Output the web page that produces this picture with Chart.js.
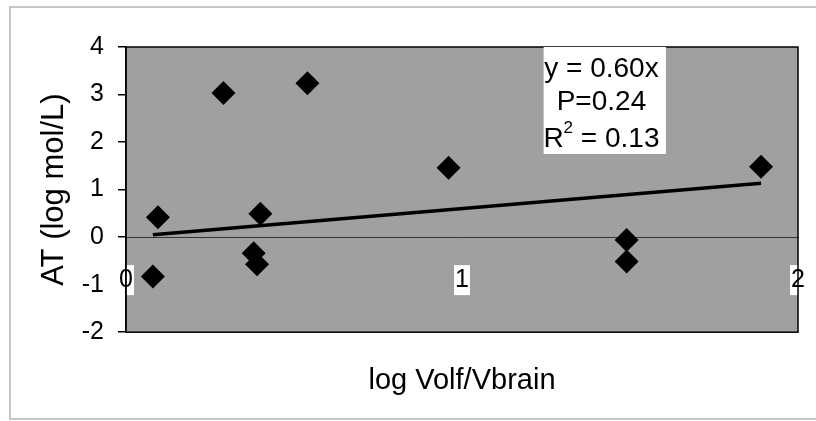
<!DOCTYPE html>
<html>
<head>
<meta charset="utf-8">
<script src="https://cdn.jsdelivr.net/npm/chart.js@4.4.1/dist/chart.umd.min.js"></script>
<style>
  html, body { margin: 0; padding: 0; background: #fff; }
</style>
</head>
<body>
<canvas id="myChart" width="816" height="421"></canvas>
<script>
// log Volf/Vbrain vs AT (log mol/L)
var volRatio = [0.08, 0.095, 0.29, 0.40, 0.38, 0.39, 0.54, 0.96, 1.49, 1.49, 1.89];
var atValues = [-0.83, 0.42, 3.03, 0.49, -0.34, -0.57, 3.24, 1.46, -0.06, -0.51, 1.48];
var xTicks = [0, 1, 2];
var yTicks = [-2, -1, 0, 1, 2, 3, 4];
var slope = 0.60;   // fitted line y = 0.60x
var pValue = 0.24;
var rSquared = 0.13;

var FONT = '"Liberation Sans", Arial, sans-serif';
Chart.defaults.font.family = FONT;
Chart.defaults.color = '#000';

var points = volRatio.map(function (v, i) { return { x: v, y: atValues[i] }; });
var xMin = Math.min.apply(null, volRatio);
var xMax = Math.max.apply(null, volRatio);
var trend = [{ x: xMin, y: slope * xMin }, { x: xMax, y: slope * xMax }];

var plotBox = {
    id: 'plotBox',
    beforeDraw: function (chart) {
        var ctx = chart.ctx, a = chart.chartArea;
        ctx.save();
        ctx.fillStyle = '#fff';
        ctx.fillRect(0, 0, chart.width, chart.height);
        // outer frame
        ctx.strokeStyle = '#b4b4b4';
        ctx.lineWidth = 1.5;
        ctx.strokeRect(10, 7, chart.width + 10, 412);
        // plot area fill
        ctx.fillStyle = '#a0a0a0';
        ctx.fillRect(a.left, a.top, a.right - a.left, a.bottom - a.top);
        ctx.restore();
    },
    beforeDatasetsDraw: function (chart) {
        var ctx = chart.ctx, a = chart.chartArea;
        ctx.save();
        ctx.strokeStyle = '#000';
        ctx.lineWidth = 1.5;
        ctx.strokeRect(a.left, a.top, a.right - a.left, a.bottom - a.top);
        ctx.restore();
    },
    afterDraw: function (chart) {
        var ctx = chart.ctx, a = chart.chartArea;
        var sx = chart.scales.x;
        var cx = sx.getPixelForValue(1.415);
        var left = sx.getPixelForValue(1.243), right = sx.getPixelForValue(1.607);
        ctx.save();
        ctx.fillStyle = '#fff';
        ctx.fillRect(left, a.top, right - left, 107);
        ctx.fillStyle = '#000';
        ctx.font = '28px ' + FONT;
        ctx.textBaseline = 'middle';
        ctx.textAlign = 'center';
        ctx.fillText('y = ' + slope.toFixed(2) + 'x', cx, a.top + 22);
        ctx.fillText('P=' + pValue.toFixed(2), cx, a.top + 55);
        // R² line with superscript
        var rest = ' = ' + rSquared.toFixed(2);
        ctx.textAlign = 'left';
        var wR = ctx.measureText('R').width;
        var wRest = ctx.measureText(rest).width;
        ctx.font = '17px ' + FONT;
        var wSup = ctx.measureText('2').width;
        var x0 = cx - (wR + wSup + wRest) / 2;
        var y3 = a.top + 92;
        ctx.font = '28px ' + FONT;
        ctx.fillText('R', x0, y3);
        ctx.fillText(rest, x0 + wR + wSup, y3);
        ctx.font = '17px ' + FONT;
        ctx.fillText('2', x0 + wR, y3 - 11);
        ctx.restore();
    }
};

var canvas = document.getElementById('myChart').getContext('2d');

new Chart(canvas, {
    type: 'scatter',
    data: {
        datasets: [{
            data: points,
            pointStyle: 'rectRot',
            pointRadius: 12,
            pointHoverRadius: 12,
            backgroundColor: '#000',
            borderColor: '#000',
            borderWidth: 0
        }, {
            type: 'line',
            data: trend,
            borderColor: '#000',
            borderWidth: 3.5,
            pointRadius: 0,
            fill: false
        }]
    },
    options: {
        responsive: false,
        animation: false,
        layout: { padding: { left: 3, right: 18, top: 47, bottom: 23 } },
        plugins: {
            legend: { display: false },
            tooltip: { enabled: false }
        },
        scales: {
            x: {
                type: 'linear',
                position: 'bottom',
                min: 0, max: 2,
                grid: { display: false },
                border: { display: false },
                ticks: { display: false },
                title: {
                    display: true,
                    text: 'log Volf/Vbrain',
                    color: '#000',
                    font: { size: 29 },
                    padding: { top: 23, bottom: 0 }
                }
            },
            xl: {
                type: 'linear',
                axis: 'x',
                position: { y: 0 },
                min: 0, max: 2,
                afterBuildTicks: function (scale) {
                    scale.ticks = xTicks.map(function (v) { return { value: v }; });
                },
                // labels sit inside the plot, so they should not push the layout
                afterFit: function (scale) {
                    scale.paddingLeft = 0;
                    scale.paddingRight = 0;
                    scale.paddingTop = 0;
                    scale.paddingBottom = 0;
                },
                grid: { display: true, drawOnChartArea: false, drawTicks: false },
                border: { display: true, color: '#333', width: 1 },
                ticks: {
                    color: '#000',
                    font: { size: 25 },
                    padding: 28,
                    maxRotation: 0,
                    showLabelBackdrop: true,
                    backdropColor: '#fff',
                    backdropPadding: { top: 0, bottom: 0, left: 1, right: 1 }
                }
            },
            y: {
                type: 'linear',
                position: 'left',
                min: -2, max: 4,
                afterBuildTicks: function (scale) {
                    scale.ticks = yTicks.map(function (v) { return { value: v }; });
                },
                afterFit: function (scale) {
                    scale.width = 123;
                },
                grid: { drawOnChartArea: false, drawTicks: true, tickLength: 8, color: '#000', lineWidth: 1.5 },
                border: { display: true, color: '#000', width: 1.5 },
                ticks: { color: '#000', font: { size: 25 }, padding: 14 },
                title: {
                    display: true,
                    text: 'AT (log mol/L)',
                    color: '#000',
                    font: { size: 31 },
                    padding: { top: 33, bottom: 0 }
                }
            }
        }
    },
    plugins: [plotBox]
});
</script>
</body>
</html>
